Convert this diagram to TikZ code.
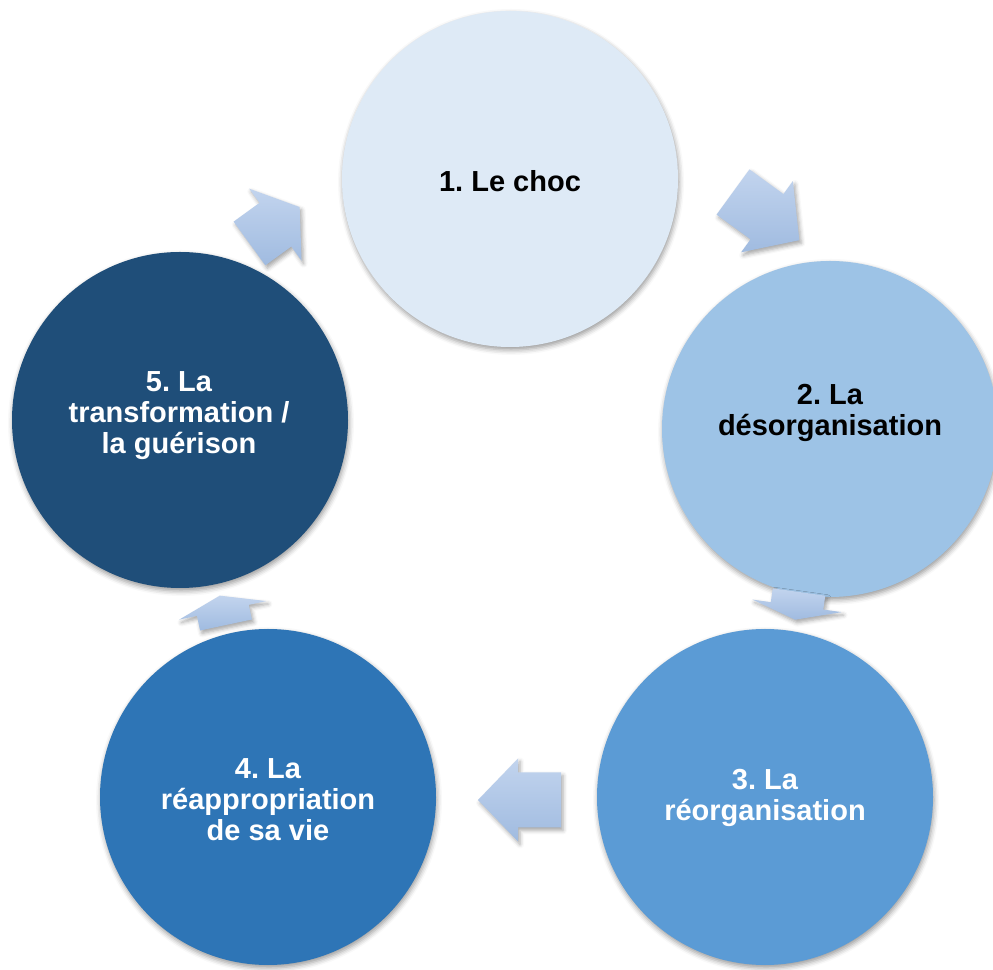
\documentclass[tikz,border=0pt]{standalone}
\usepackage{fontspec}
\setmainfont{Liberation Sans}
\usetikzlibrary{shadows.blur}
\frenchspacing

\definecolor{stageA}{RGB}{222,234,246}
\definecolor{stageB}{RGB}{157,195,230}
\definecolor{stageC}{RGB}{91,155,213}
\definecolor{stageD}{RGB}{46,117,182}
\definecolor{stageE}{RGB}{31,78,121}
\definecolor{arrowTop}{RGB}{194,212,238}
\definecolor{arrowBot}{RGB}{160,187,224}

% block arrow built from relative polar steps (no rotation, so the
% gradient stays vertical): #1 back-centre point, #2 direction,
% #3 length, #4 head length, #5 shaft half-width, #6 head half-width
\newcommand{\cyclearrow}[6]{%
  \path[flowarrow] (#1) ++(#2-90:#5)
    -- ++(#2:{#3-#4})
    -- ++(#2-90:{#6-#5})
    -- ++([shift={(#2+90:#6)}]#2:#4)
    -- ++([shift={(#2+90:#6)}]#2+180:#4)
    -- ++(#2-90:{#6-#5})
    -- ++(#2+180:{#3-#4})
    -- cycle;}

\begin{document}
\begin{tikzpicture}[x=1pt,y=1pt,
  stage/.style={circle, minimum size=336pt, inner sep=0pt,
    blur shadow={shadow xshift=1pt, shadow yshift=-3pt,
      shadow blur radius=5pt, shadow opacity=40}},
  stagetext/.style={font=\fontsize{29}{31}\selectfont\bfseries,
    align=center, text=white},
  flowarrow/.style={top color=arrowTop, bottom color=arrowBot,
    blur shadow={shadow xshift=2pt, shadow yshift=-3pt,
      shadow blur radius=4pt, shadow opacity=35}}]
\useasboundingbox (0,0) rectangle (993,969);

% stages of the cycle
\node[stage, fill=stageA] (s1) at (510,790) {};
\node[stage, fill=stageB] (s2) at (830,540) {};
\node[stage, fill=stageC] (s3) at (765,172) {};
\node[stage, fill=stageD] (s4) at (268,172) {};
\node[stage, fill=stageE] (s5) at (180,549) {};

\node[stagetext, text=black] (t1) at (510,788) {1. Le choc};
\node[stagetext, text=black] (t2) at (830,556) {2. La\\d\'esorganisation};
\node[stagetext] (t3) at (765,171) {3. La\\r\'eorganisation};
\node[stagetext] (t4) at (268,169) {4. La\\r\'eappropriation\\de sa vie};
\node[stagetext] (t5) at (179,553) {5. La\\transformation /\\la gu\'erison};

% arrows between consecutive stages
\coordinate (a1) at (733,777);
\coordinate (a2) at (799,377);
\coordinate (a3) at (561,169);
\coordinate (a4) at (226,344);
\coordinate (a5) at (249.5,725.5);
\cyclearrow{a1}{-36}{82}{40}{28}{44}
\cyclearrow{a2}{-98}{28}{14}{26.5}{45}
\cyclearrow{a3}{180}{83}{40}{27.5}{41.5}
\cyclearrow{a4}{102}{30}{15}{26.5}{44.5}
\cyclearrow{a5}{36}{62}{30}{27}{44.5}
\end{tikzpicture}
\end{document}
